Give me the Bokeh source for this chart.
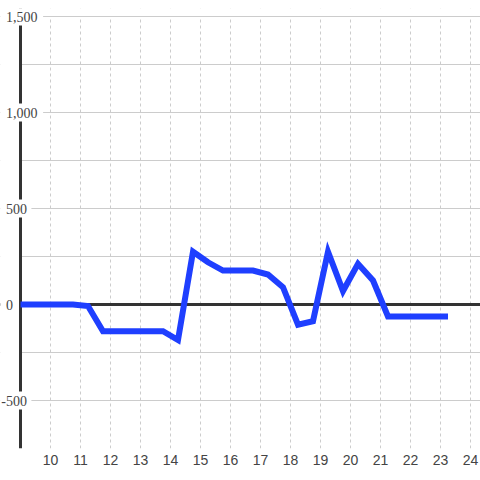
from bokeh.plotting import figure
from bokeh.models import (ColumnDataSource, FixedTicker, Grid, Span, Range1d,
                          BoxAnnotation)
from bokeh.embed import file_html
from bokeh.resources import INLINE

# ---- data ----
hours = [9.0, 9.25, 9.75, 10.25, 10.75, 11.25, 11.75, 12.25, 12.75, 13.25,
         13.75, 14.25, 14.75, 15.25, 15.75, 16.25, 16.75, 17.25, 17.75, 18.25,
         18.75, 19.25, 19.75, 20.25, 20.75, 21.25, 21.75, 22.25, 22.75, 23.25]
values = [0, 0, 0, 0, 0, -8, -139, -139, -139, -139,
          -139, -185, 275, 220, 177, 177, 177, 156, 90, -105,
          -87, 275, 70, 212, 125, -62, -62, -62, -62, -62]
x_ticks = list(range(10, 25))
y_ticks = [-500, 0, 500, 1000, 1500]
y_grid_ticks = [-750, -500, -250, 0, 250, 500, 750, 1000, 1250, 1500]
y_labels = [f"{v:,}" for v in y_ticks]

FONT = "Liberation Sans"
TXT = "#444444"
GRID = "#cccccc"
DARK = "#333333"
AXIS_X = 9          # where the vertical axis line sits
FRAME_H = 440       # frame height in px (480 - 8 - 32)

X0, X1 = 8.3333, 24.3333
Y0, Y1 = -750, 1500 + 8 * 2250 / 432
PX_Y = (Y1 - Y0) / FRAME_H      # data units per px vertically

p = figure(width=480, height=480, output_backend="svg", toolbar_location=None,
           x_range=Range1d(X0, X1), y_range=Range1d(Y0, Y1),
           y_axis_location=None, min_border_left=0, min_border_right=0,
           min_border_top=8, min_border_bottom=32,
           background_fill_color="white", border_fill_color="white")
p.outline_line_color = None

# x axis
p.xaxis.ticker = FixedTicker(ticks=x_ticks)
p.xaxis.axis_line_color = None
p.xaxis.major_tick_line_color = None
p.xaxis.minor_tick_line_color = None
p.xaxis.major_tick_out = 0
p.xaxis.major_tick_in = 0
p.xaxis.major_label_standoff = 6
p.xaxis.major_label_text_font = FONT
p.xaxis.major_label_text_font_size = "14px"
p.xaxis.major_label_text_color = TXT
p.xgrid.ticker = FixedTicker(ticks=x_ticks)
p.xgrid.grid_line_color = GRID
p.xgrid.grid_line_dash = "3 3"


def white_box(**kw):
    return BoxAnnotation(fill_color="white", fill_alpha=1, line_color=None,
                         level="underlay", **kw)


# vertical dashed grid stops at the top grid line
p.add_layout(white_box(bottom=max(y_grid_ticks)))

# horizontal grid
p.add_layout(Grid(dimension=1, ticker=FixedTicker(ticks=y_grid_ticks),
                  grid_line_color=GRID, grid_line_width=1))

# zero line
p.add_layout(Span(location=0, dimension="width", line_color=DARK,
                  line_width=3, level="underlay"))
# nothing of the grid left of the axis line
p.add_layout(white_box(right=AXIS_X))
# axis line
p.add_layout(Span(location=AXIS_X, dimension="height", line_color=DARK,
                  line_width=3, level="underlay"))

# y tick labels: left aligned, minus sign hanging to the left
CHAR_W = {",": 3.9, "-": 4.7}
offsets, ends = [], []
for t in y_labels:
    start = 5.5 - (CHAR_W["-"] if t.startswith("-") else 0)
    width = sum(CHAR_W.get(c, 7.8) for c in t)
    offsets.append(start)
    ends.append(start + width)
for v, s, e in zip(y_ticks, offsets, ends):
    p.add_layout(white_box(left=s - 1, right=e + 2, left_units="screen",
                           right_units="screen",
                           bottom=v - 9 * PX_Y, top=v + 9 * PX_Y))

# data line
src = ColumnDataSource(dict(x=hours, y=values))
p.line("x", "y", source=src, line_color="#1f3fff", line_width=6,
       line_join="miter", line_cap="butt")

lab_src = ColumnDataSource(dict(x=[X0] * len(y_ticks), y=y_ticks,
                                text=y_labels, dx=offsets))
p.text(x="x", y="y", text="text", source=lab_src, x_offset="dx",
       text_align="left", text_baseline="middle",
       text_font=FONT, text_font_size="14px", text_color=TXT)

open("out.html", "w").write(file_html(p, INLINE))
